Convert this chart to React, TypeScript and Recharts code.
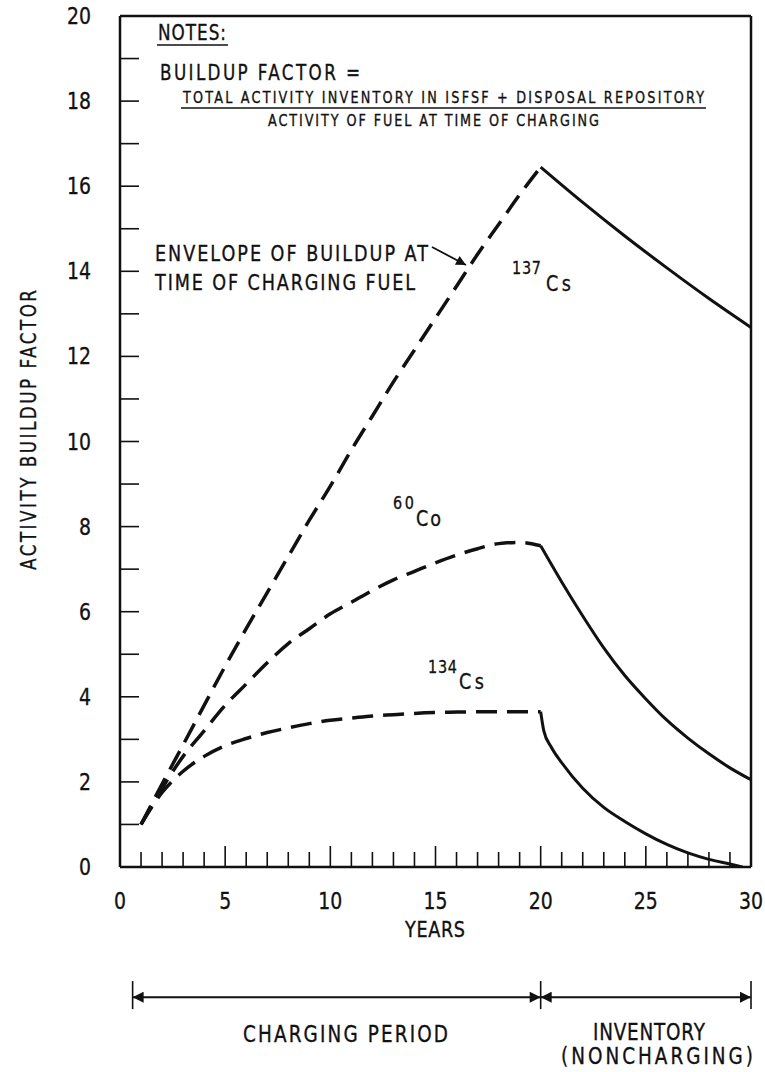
import type { ReactNode } from "react";
import { Line, LineChart, ReferenceLine, XAxis, YAxis } from "recharts";

const FONT = '"DejaVu Sans", "Liberation Sans", sans-serif';
const INK = "#111";

// axis ticks
const xTicks = Array.from({ length: 31 }, (_, i) => i);
const yTicks = Array.from({ length: 21 }, (_, i) => i);

// 137Cs: envelope while charging (dashed), then decay (solid)
const cs137ChargeYears = [1, 2, 3, 4, 5, 6, 7, 8, 9, 10, 11, 12, 13, 14, 15, 16, 17, 18, 19, 20];
const cs137ChargeValues = [1, 1.95, 2.87, 3.8, 4.72, 5.6, 6.45, 7.3, 8.15, 8.95, 9.8, 10.6, 11.4, 12.15, 12.9, 13.65, 14.4, 15.1, 15.8, 16.45];
const cs137DecayYears = [20, 22, 24, 26, 28, 30];
const cs137DecayValues = [16.45, 15.62, 14.83, 14.08, 13.36, 12.68];

// 60Co
const co60ChargeYears = [1, 2, 3, 4, 5, 6, 7, 8, 9, 10, 11, 12, 13, 14, 15, 16, 17, 18, 19, 20];
const co60ChargeValues = [1, 1.85, 2.6, 3.2, 3.8, 4.3, 4.8, 5.25, 5.6, 5.95, 6.22, 6.5, 6.75, 6.95, 7.15, 7.33, 7.48, 7.6, 7.63, 7.55];
const co60DecayYears = [20, 21, 22, 23, 24, 25, 26, 27, 28, 29, 30];
const co60DecayValues = [7.55, 6.7, 5.9, 5.15, 4.5, 3.95, 3.45, 3.03, 2.66, 2.33, 2.05];

// 134Cs
const cs134ChargeYears = [1, 2, 3, 4, 5, 6, 7, 8, 9, 10, 11, 12, 13, 14, 15, 16, 17, 18, 19, 20];
const cs134ChargeValues = [1, 1.75, 2.25, 2.6, 2.85, 3.02, 3.16, 3.27, 3.37, 3.45, 3.5, 3.55, 3.58, 3.61, 3.63, 3.64, 3.65, 3.65, 3.65, 3.65];
const cs134DecayYears = [20, 20.15, 20.5, 21, 22, 23, 24, 25, 26, 27, 28, 29, 29.6];
const cs134DecayValues = [3.65, 3.2, 2.82, 2.45, 1.85, 1.4, 1.07, 0.78, 0.53, 0.33, 0.18, 0.07, 0];

const toRows = (years: number[], values: number[]) => years.map((t, i) => ({ t, v: values[i] }));

const X_MARGIN = 26;
const Y_MARGIN = 29;
const SQUEEZE = 0.8; // the original lettering is a narrow face

// narrow lettering: horizontally squeezed, then spaced out to the measured width
function CText({ x, y, w, size, rotate = 0, children }: { x: number; y: number; w: number; size: number; rotate?: number; children: ReactNode }) {
  return (
    <text
      transform={`translate(${x},${y}) rotate(${rotate}) scale(${SQUEEZE},1)`}
      fontFamily={FONT}
      fontSize={size}
      fill={INK}
      stroke={INK}
      strokeWidth={0.35}
      textLength={w / SQUEEZE}
      lengthAdjust="spacing"
    >
      {children}
    </text>
  );
}

function XTick(props: any) {
  const { x, y, payload } = props;
  const v = Number(payload.value);
  const major = v % 5 === 0;
  const axisY = y - X_MARGIN;
  return (
    <g>
      {v > 0 && v < 30 ? (
        <line x1={x} x2={x} y1={axisY} y2={axisY - (major ? 21 : 15)} stroke={INK} strokeWidth={1.6} />
      ) : null}
      {major ? (
        <text transform={`translate(${x},${y + 16}) scale(0.82,1)`} textAnchor="middle" fontFamily={FONT} fontSize={23} fill={INK} stroke={INK} strokeWidth={0.35}>
          {v}
        </text>
      ) : null}
    </g>
  );
}

function YTick(props: any) {
  const { x, y, payload } = props;
  const v = Number(payload.value);
  const axisX = x + Y_MARGIN;
  return (
    <g>
      {v > 0 && v < 20 ? <line x1={axisX} x2={axisX + 19} y1={y} y2={y} stroke={INK} strokeWidth={1.6} /> : null}
      {v % 2 === 0 ? (
        <text transform={`translate(${x},${y + 8}) scale(0.82,1)`} textAnchor="end" fontFamily={FONT} fontSize={23} fill={INK} stroke={INK} strokeWidth={0.35}>
          {v}
        </text>
      ) : null}
    </g>
  );
}

const dashed = { strokeDasharray: "21 10", strokeWidth: 3.5 };
const solid = { strokeWidth: 3 };

export default function App() {
  return (
    <div style={{ position: "absolute", left: 0, top: 0, width: 765, height: 1072, background: "#fff" }}>
      <LineChart width={765} height={1072} margin={{ top: 16, right: 14, left: 0, bottom: 145 }}>
        <XAxis
          dataKey="t"
          type="number"
          domain={[0, 30]}
          ticks={xTicks}
          interval={0}
          height={60}
          tickSize={0}
          tickMargin={X_MARGIN}
          tickLine={false}
          axisLine={{ stroke: INK, strokeWidth: 2.5 }}
          tick={<XTick />}
          allowDataOverflow
        />
        <YAxis
          type="number"
          domain={[0, 20]}
          ticks={yTicks}
          interval={0}
          width={120}
          tickSize={0}
          tickMargin={Y_MARGIN}
          tickLine={false}
          axisLine={{ stroke: INK, strokeWidth: 2.5 }}
          tick={<YTick />}
          allowDataOverflow
        />
        <ReferenceLine y={20} stroke={INK} strokeWidth={2.5} ifOverflow="visible" />
        <ReferenceLine x={30} stroke={INK} strokeWidth={2.5} ifOverflow="visible" />

        <Line data={toRows(cs137ChargeYears, cs137ChargeValues)} dataKey="v" type="monotone" stroke={INK} dot={false} isAnimationActive={false} {...dashed} />
        <Line data={toRows(cs137DecayYears, cs137DecayValues)} dataKey="v" type="monotone" stroke={INK} dot={false} isAnimationActive={false} {...solid} />
        <Line data={toRows(co60ChargeYears, co60ChargeValues)} dataKey="v" type="monotone" stroke={INK} dot={false} isAnimationActive={false} {...dashed} />
        <Line data={toRows(co60DecayYears, co60DecayValues)} dataKey="v" type="monotone" stroke={INK} dot={false} isAnimationActive={false} {...solid} />
        <Line data={toRows(cs134ChargeYears, cs134ChargeValues)} dataKey="v" type="monotone" stroke={INK} dot={false} isAnimationActive={false} {...dashed} />
        <Line data={toRows(cs134DecayYears, cs134DecayValues)} dataKey="v" type="monotone" stroke={INK} dot={false} isAnimationActive={false} {...solid} />

        {/* period brackets under the axis */}
        <ReferenceLine segment={[{ x: 0.6, y: -3.06 }, { x: 20, y: -3.06 }]} stroke={INK} strokeWidth={2} ifOverflow="visible" markerStart="url(#arrowHead)" markerEnd="url(#arrowHead)" />
        <ReferenceLine segment={[{ x: 20, y: -3.06 }, { x: 30, y: -3.06 }]} stroke={INK} strokeWidth={2} ifOverflow="visible" markerStart="url(#arrowHead)" markerEnd="url(#arrowHead)" />
        <ReferenceLine segment={[{ x: 0.6, y: -2.68 }, { x: 0.6, y: -3.34 }]} stroke={INK} strokeWidth={1.6} ifOverflow="visible" />
        <ReferenceLine segment={[{ x: 20, y: -2.68 }, { x: 20, y: -3.34 }]} stroke={INK} strokeWidth={1.6} ifOverflow="visible" />
        <ReferenceLine segment={[{ x: 30, y: -2.68 }, { x: 30, y: -3.34 }]} stroke={INK} strokeWidth={1.6} ifOverflow="visible" />
      </LineChart>

      <svg width={765} height={1072} style={{ position: "absolute", left: 0, top: 0, pointerEvents: "none" }}>
        <defs>
          <marker id="arrowHead" viewBox="0 0 10 10" refX="10" refY="5" markerWidth="6.5" markerHeight="5.5" orient="auto-start-reverse">
            <path d="M0,0 L10,5 L0,10 z" fill={INK} />
          </marker>
        </defs>

        {/* notes */}
        <CText x={158} y={40} w={68} size={21}>NOTES:</CText>
        <line x1={157} x2={228} y1={45} y2={45} stroke={INK} strokeWidth={1.5} />
        <CText x={160} y={80} w={200} size={21}>BUILDUP FACTOR =</CText>
        <CText x={183} y={103} w={521} size={16}>TOTAL ACTIVITY INVENTORY IN ISFSF + DISPOSAL REPOSITORY</CText>
        <line x1={181} x2={706} y1={108} y2={108} stroke={INK} strokeWidth={1.5} />
        <CText x={268} y={126} w={331} size={16}>ACTIVITY OF FUEL AT TIME OF CHARGING</CText>

        {/* envelope callout */}
        <CText x={155} y={261} w={273} size={22}>ENVELOPE OF BUILDUP AT</CText>
        <CText x={155} y={290} w={260} size={22}>TIME OF CHARGING FUEL</CText>
        <line x1={432} y1={247} x2={466} y2={265} stroke={INK} strokeWidth={1.8} markerEnd="url(#arrowHead)" />

        {/* isotope labels */}
        <CText x={512} y={274} w={29} size={18}>137</CText>
        <CText x={546} y={291} w={25} size={22}>Cs</CText>
        <CText x={393} y={509} w={21} size={18}>60</CText>
        <CText x={416} y={526} w={25} size={22}>Co</CText>
        <CText x={428} y={673} w={29} size={18}>134</CText>
        <CText x={459} y={689} w={25} size={22}>Cs</CText>

        {/* axis titles */}
        <CText x={405} y={937} w={60} size={22}>YEARS</CText>
        <CText x={36} y={570} w={280} size={21} rotate={-90}>ACTIVITY BUILDUP FACTOR</CText>

        {/* period labels */}
        <CText x={243} y={1042} w={205} size={23}>CHARGING PERIOD</CText>
        <CText x={593} y={1040} w={112} size={23}>INVENTORY</CText>
        <CText x={561} y={1064} w={192} size={23}>(NONCHARGING)</CText>
      </svg>
    </div>
  );
}
